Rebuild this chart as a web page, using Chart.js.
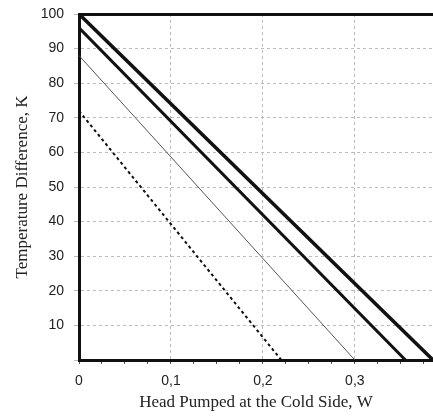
<!DOCTYPE html>
<html>
<head>
<meta charset="utf-8">
<script src="https://cdn.jsdelivr.net/npm/chart.js@4/dist/chart.umd.min.js"></script>
<style>
  body { margin: 0; background: #fff; }
  #wrap { width: 433px; height: 416px; }
</style>
</head>
<body>
<div id="wrap"><canvas id="dtChart" width="433" height="416"></canvas></div>
<script>
// Max temperature difference (at zero load) and max heat pumped (at dT = 0) per curve
const dtMax = [100, 96, 88, 72];
const qcMax = [0.385, 0.355, 0.30, 0.22];
const lineWidths = [3.5, 3, 1, 2];
const lineColors = ['#111', '#111', '#555', '#111'];
const lineDashes = [[], [], [], [3, 3]];

const xTickValues = [0, 0.1, 0.2, 0.3];
const xTickLabels = ['0', '0,1', '0,2', '0,3'];
const yTickValues = [10, 20, 30, 40, 50, 60, 70, 80, 90, 100];

const isMajorX = v => Math.abs(Math.round(v * 40)) % 4 === 0;

function xLabel(v) {
  const i = xTickValues.findIndex(t => Math.abs(t - v) < 1e-6);
  return i === -1 ? '' : xTickLabels[i];
}

function buildDatasets() {
  return dtMax.map((dt, i) => ({
    data: [{ x: 0, y: dt }, { x: qcMax[i], y: 0 }],
    showLine: true,
    borderColor: lineColors[i],
    borderWidth: lineWidths[i],
    borderDash: lineDashes[i],
    pointRadius: 0,
    fill: false
  }));
}

function initChart() {
  new Chart(document.getElementById('dtChart').getContext('2d'), {
    type: 'scatter',
    data: { datasets: buildDatasets() },
    options: {
      responsive: false,
      animation: false,
      layout: { padding: { top: 14, right: 0, bottom: 0, left: 0 } },
      plugins: { legend: { display: false }, tooltip: { enabled: false } },
      scales: {
        x: {
          type: 'linear',
          position: 'bottom',
          min: 0,
          max: 0.385,
          afterFit: s => { s.height = 56; },
          ticks: {
            stepSize: 0.025,
            autoSkip: false,
            includeBounds: false,
            maxRotation: 0,
            padding: 9,
            color: '#222',
            font: { family: 'Liberation Sans', size: 14 },
            callback: v => xLabel(v)
          },
          grid: {
            color: ctx => (ctx.tick && isMajorX(ctx.tick.value)) ? '#bbb' : 'rgba(0,0,0,0)',
            lineWidth: 1,
            tickColor: '#555',
            tickLength: 4
          },
          border: { display: true, color: '#111', width: 3, dash: [3, 3] },
          title: {
            display: true,
            text: 'Head Pumped at the Cold Side, W',
            color: '#222',
            font: { family: 'Liberation Serif', size: 17 },
            padding: { top: 0, bottom: 3 }
          }
        },
        top: {
          type: 'linear',
          position: 'top',
          min: 0,
          max: 0.385,
          afterFit: s => { s.height = 0; s.paddingLeft = 0; s.paddingRight = 0; },
          ticks: { display: false },
          grid: { drawOnChartArea: false, drawTicks: false },
          border: { display: true, color: '#111', width: 3 }
        },
        y: {
          min: 0,
          max: 100,
          afterFit: s => { s.width = 79; s.paddingTop = 0; s.paddingBottom = 0; },
          afterBuildTicks: s => { s.ticks = [0].concat(yTickValues).map(v => ({ value: v })); },
          ticks: {
            padding: 10,
            color: '#222',
            font: { family: 'Liberation Sans', size: 14 },
            callback: v => yTickValues.includes(v) ? String(v) : ''
          },
          grid: { color: '#bbb', lineWidth: 1, tickLength: 5 },
          border: { display: true, color: '#111', width: 3, dash: [3, 3] },
          title: {
            display: true,
            text: 'Temperature Difference, K',
            color: '#222',
            font: { family: 'Liberation Serif', size: 17 },
            padding: { top: 12, bottom: 0 }
          }
        }
      }
    }
  });
}

document.addEventListener('DOMContentLoaded', initChart);
</script>
</body>
</html>
